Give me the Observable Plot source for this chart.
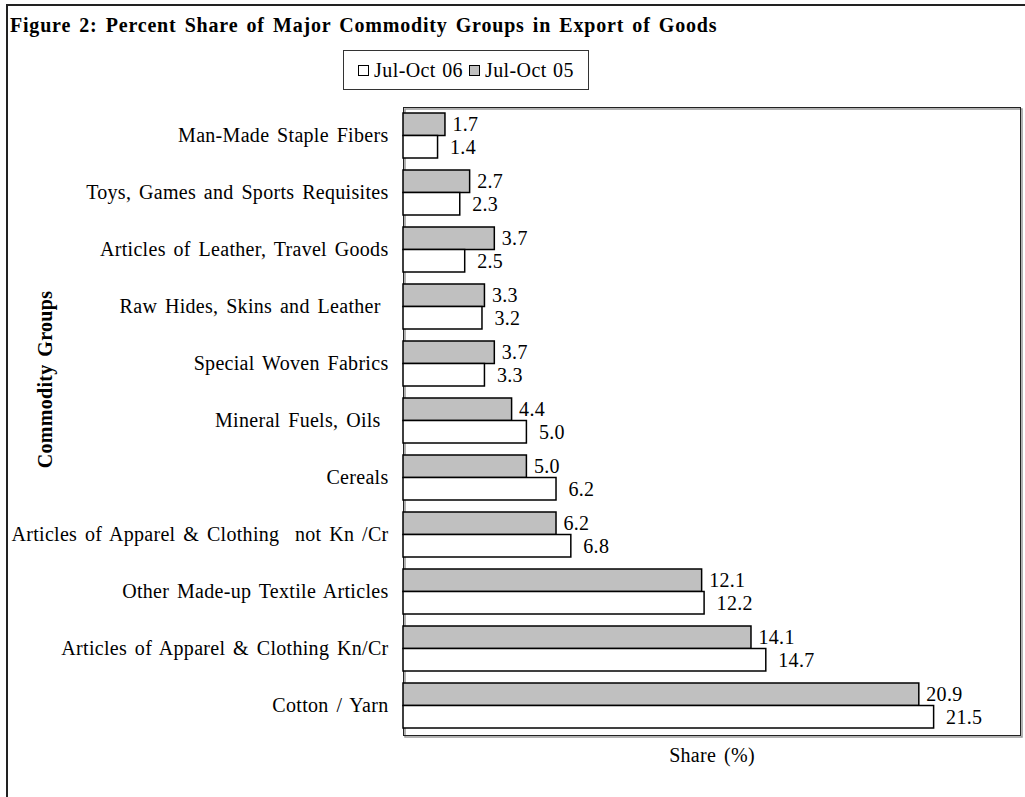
<!DOCTYPE html>
<html>
<head>
<meta charset="utf-8">
<script src="https://cdn.jsdelivr.net/npm/d3@7"></script>
<script src="https://cdn.jsdelivr.net/npm/@observablehq/plot@0.6"></script>
<style>
  body { margin: 0; background: #fff; font-family: "Liberation Serif", "Times New Roman", serif; }
  #wrap { position: relative; width: 1025px; height: 797px; overflow: hidden; background: #fff; }
  #outer { position: absolute; left: 6px; top: 4px; width: 1100px; height: 900px; border-left: 2px solid #222; border-top: 2px solid #222; }
  #title { position: absolute; left: 10px; top: 15px; font-weight: bold; font-size: 20px; line-height: 20px; letter-spacing: 0.8px; word-spacing: 2.4px; color: #000; white-space: nowrap; }
  #legend { position: absolute; left: 343px; top: 50px; width: 244px; height: 38px; border: 1px solid #333; display: flex; align-items: center; justify-content: center; font-size: 20px; letter-spacing: 0.4px; word-spacing: 1px; color: #000; white-space: nowrap; }
  .sw { display: inline-block; width: 9px; height: 9px; border: 1.5px solid #000; margin: 0 5px 0 0; }
  .item { display: inline-flex; align-items: center; margin: 0 3px; }
  #chart { position: absolute; left: 0; top: 100px; }
  #chart svg text { letter-spacing: 0.3px; word-spacing: 2.5px; }
  #chart svg text.ytitle { letter-spacing: 0.5px; }
</style>
</head>
<body>
<div id="wrap">
  <div id="outer"></div>
  <div id="title">Figure 2: Percent Share of Major Commodity Groups in Export of Goods</div>
  <div id="legend"></div>
  <div id="chart"></div>
</div>
<script>
const categories = [
  "Man-Made Staple Fibers",
  "Toys, Games and Sports Requisites",
  "Articles of Leather, Travel Goods",
  "Raw Hides, Skins and Leather ",
  "Special Woven Fabrics",
  "Mineral Fuels, Oils ",
  "Cereals",
  "Articles of Apparel & Clothing  not Kn /Cr",
  "Other Made-up Textile Articles",
  "Articles of Apparel & Clothing Kn/Cr",
  "Cotton / Yarn"
];
const seriesNames = ["Jul-Oct 06", "Jul-Oct 05"];
const values06 = [1.4, 2.3, 2.5, 3.2, 3.3, 5.0, 6.2, 6.8, 12.2, 14.7, 21.5];
const values05 = [1.7, 2.7, 3.7, 3.3, 3.7, 4.4, 5.0, 6.2, 12.1, 14.1, 20.9];
const seriesFill = {"Jul-Oct 06": "#ffffff", "Jul-Oct 05": "#c0c0c0"};

const data06 = categories.map((c, i) => ({category: c, value: values06[i]}));
const data05 = categories.map((c, i) => ({category: c, value: values05[i]}));

// Legend
const legend = document.getElementById("legend");
for (const s of seriesNames) {
  const item = document.createElement("span");
  item.className = "item";
  const sw = document.createElement("span");
  sw.className = "sw";
  sw.style.background = seriesFill[s];
  item.appendChild(sw);
  item.appendChild(document.createTextNode(s));
  legend.appendChild(item);
}

const half = 22.5;
const chart = Plot.plot({
  width: 1025,
  height: 697,
  marginLeft: 403,
  marginRight: 5,
  marginTop: 7,
  marginBottom: 62,
  style: {fontFamily: "'Liberation Serif', 'Times New Roman', serif", fontSize: "20px", color: "#000", background: "transparent"},
  x: {domain: [0, 25], axis: null},
  y: {domain: categories, paddingInner: 0.21, paddingOuter: 0.1, axis: null},
  marks: [
    Plot.frame({stroke: "#999", strokeWidth: 1.5, dx: 1.5, dy: 1.5}),
    Plot.frame({stroke: "#222", strokeWidth: 1}),
    Plot.barX(data05, {x: "value", y: "category", fill: seriesFill["Jul-Oct 05"], stroke: "#000", strokeWidth: 1.5, insetBottom: half}),
    Plot.barX(data06, {x: "value", y: "category", fill: seriesFill["Jul-Oct 06"], stroke: "#000", strokeWidth: 1.5, insetTop: half}),
    Plot.text(data05, {x: "value", y: "category", text: d => d.value.toFixed(1), dy: -half / 2, dx: 7, textAnchor: "start", fill: "#000", fontSize: 20}),
    Plot.text(data06, {x: "value", y: "category", text: d => d.value.toFixed(1), dy: half / 2, dx: 12, textAnchor: "start", fill: "#000", fontSize: 20}),
    Plot.axisY({tickSize: 0, tickPadding: 15, fontSize: 20, label: null}),
    Plot.text(["Commodity Groups"], {frameAnchor: "left", textAnchor: "middle", rotate: -90, dx: -358, dy: -42, fontWeight: "bold", fontSize: 20, fill: "#000", className: "ytitle"}),
    Plot.text(["Share (%)"], {frameAnchor: "bottom", textAnchor: "middle", dy: 26, fontSize: 20, fill: "#000"})
  ]
});
document.getElementById("chart").appendChild(chart);
</script>
</body>
</html>
